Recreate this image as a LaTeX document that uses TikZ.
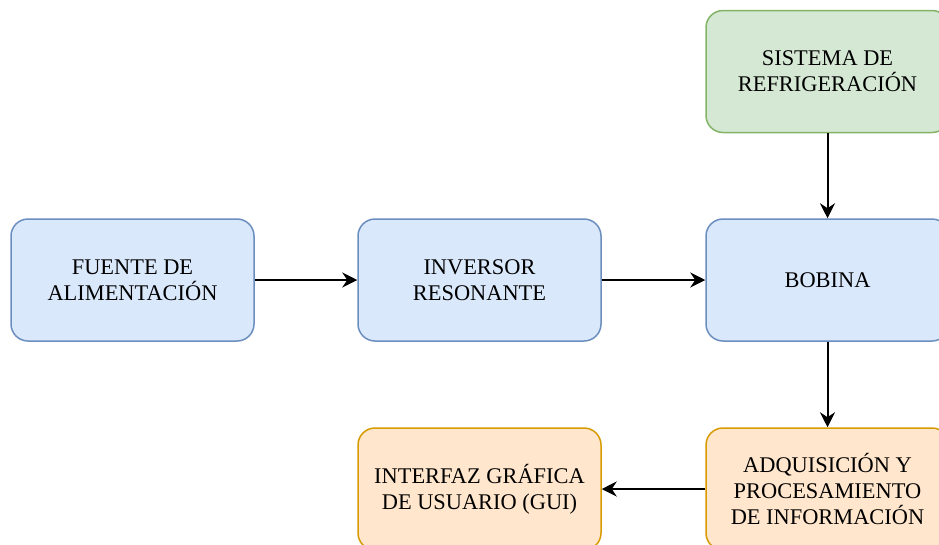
\documentclass[tikz,border=0pt]{standalone}
\usepackage{fontspec}
\setmainfont{Liberation Serif}
\usetikzlibrary{arrows.meta}
\definecolor{bfill}{HTML}{DAE8FC}
\definecolor{bdraw}{HTML}{6C8EBF}
\definecolor{gfill}{HTML}{D5E8D4}
\definecolor{gdraw}{HTML}{82B366}
\definecolor{ofill}{HTML}{FFE6CC}
\definecolor{odraw}{HTML}{D79B00}
\tikzset{
  box/.style={rounded corners=17pt, line width=1.5pt, minimum width=243pt, minimum height=122pt,
    inner sep=0pt, align=center, font=\fontsize{22.4}{25.7}\selectfont, text=black},
  bluebox/.style={box, fill=bfill, draw=bdraw},
  greenbox/.style={box, fill=gfill, draw=gdraw},
  orangebox/.style={box, fill=ofill, draw=odraw},
  conn/.style={line width=2pt, -{Stealth[length=15pt,width=15pt,inset=5pt]}}
}
\begin{document}
\begin{tikzpicture}[x=1pt,y=-1pt]
\useasboundingbox (0,0) rectangle (939,544);
\clip (0,0) rectangle (939,544);
\node[bluebox] (fuente) at (132.5,280) {FUENTE DE\\ALIMENTACIÓN};
\node[bluebox] (inversor) at (479.5,280) {INVERSOR\\RESONANTE};
\node[bluebox] (bobina) at (827.5,280) {BOBINA};
\node[greenbox] (refri) at (827.5,71.5) {SISTEMA DE\\REFRIGERACIÓN};
\node[orangebox] (gui) at (479.5,489) {INTERFAZ GRÁFICA\\DE USUARIO (GUI)};
\node[orangebox] (adq) at (827.5,489) {ADQUISICIÓN Y\\PROCESAMIENTO\\DE INFORMACIÓN};
\draw[conn] (fuente) -- (inversor);
\draw[conn] (inversor) -- (bobina);
\draw[conn] (refri) -- (bobina);
\draw[conn] (bobina) -- (adq);
\draw[conn] (adq) -- (gui);
\end{tikzpicture}
\end{document}
